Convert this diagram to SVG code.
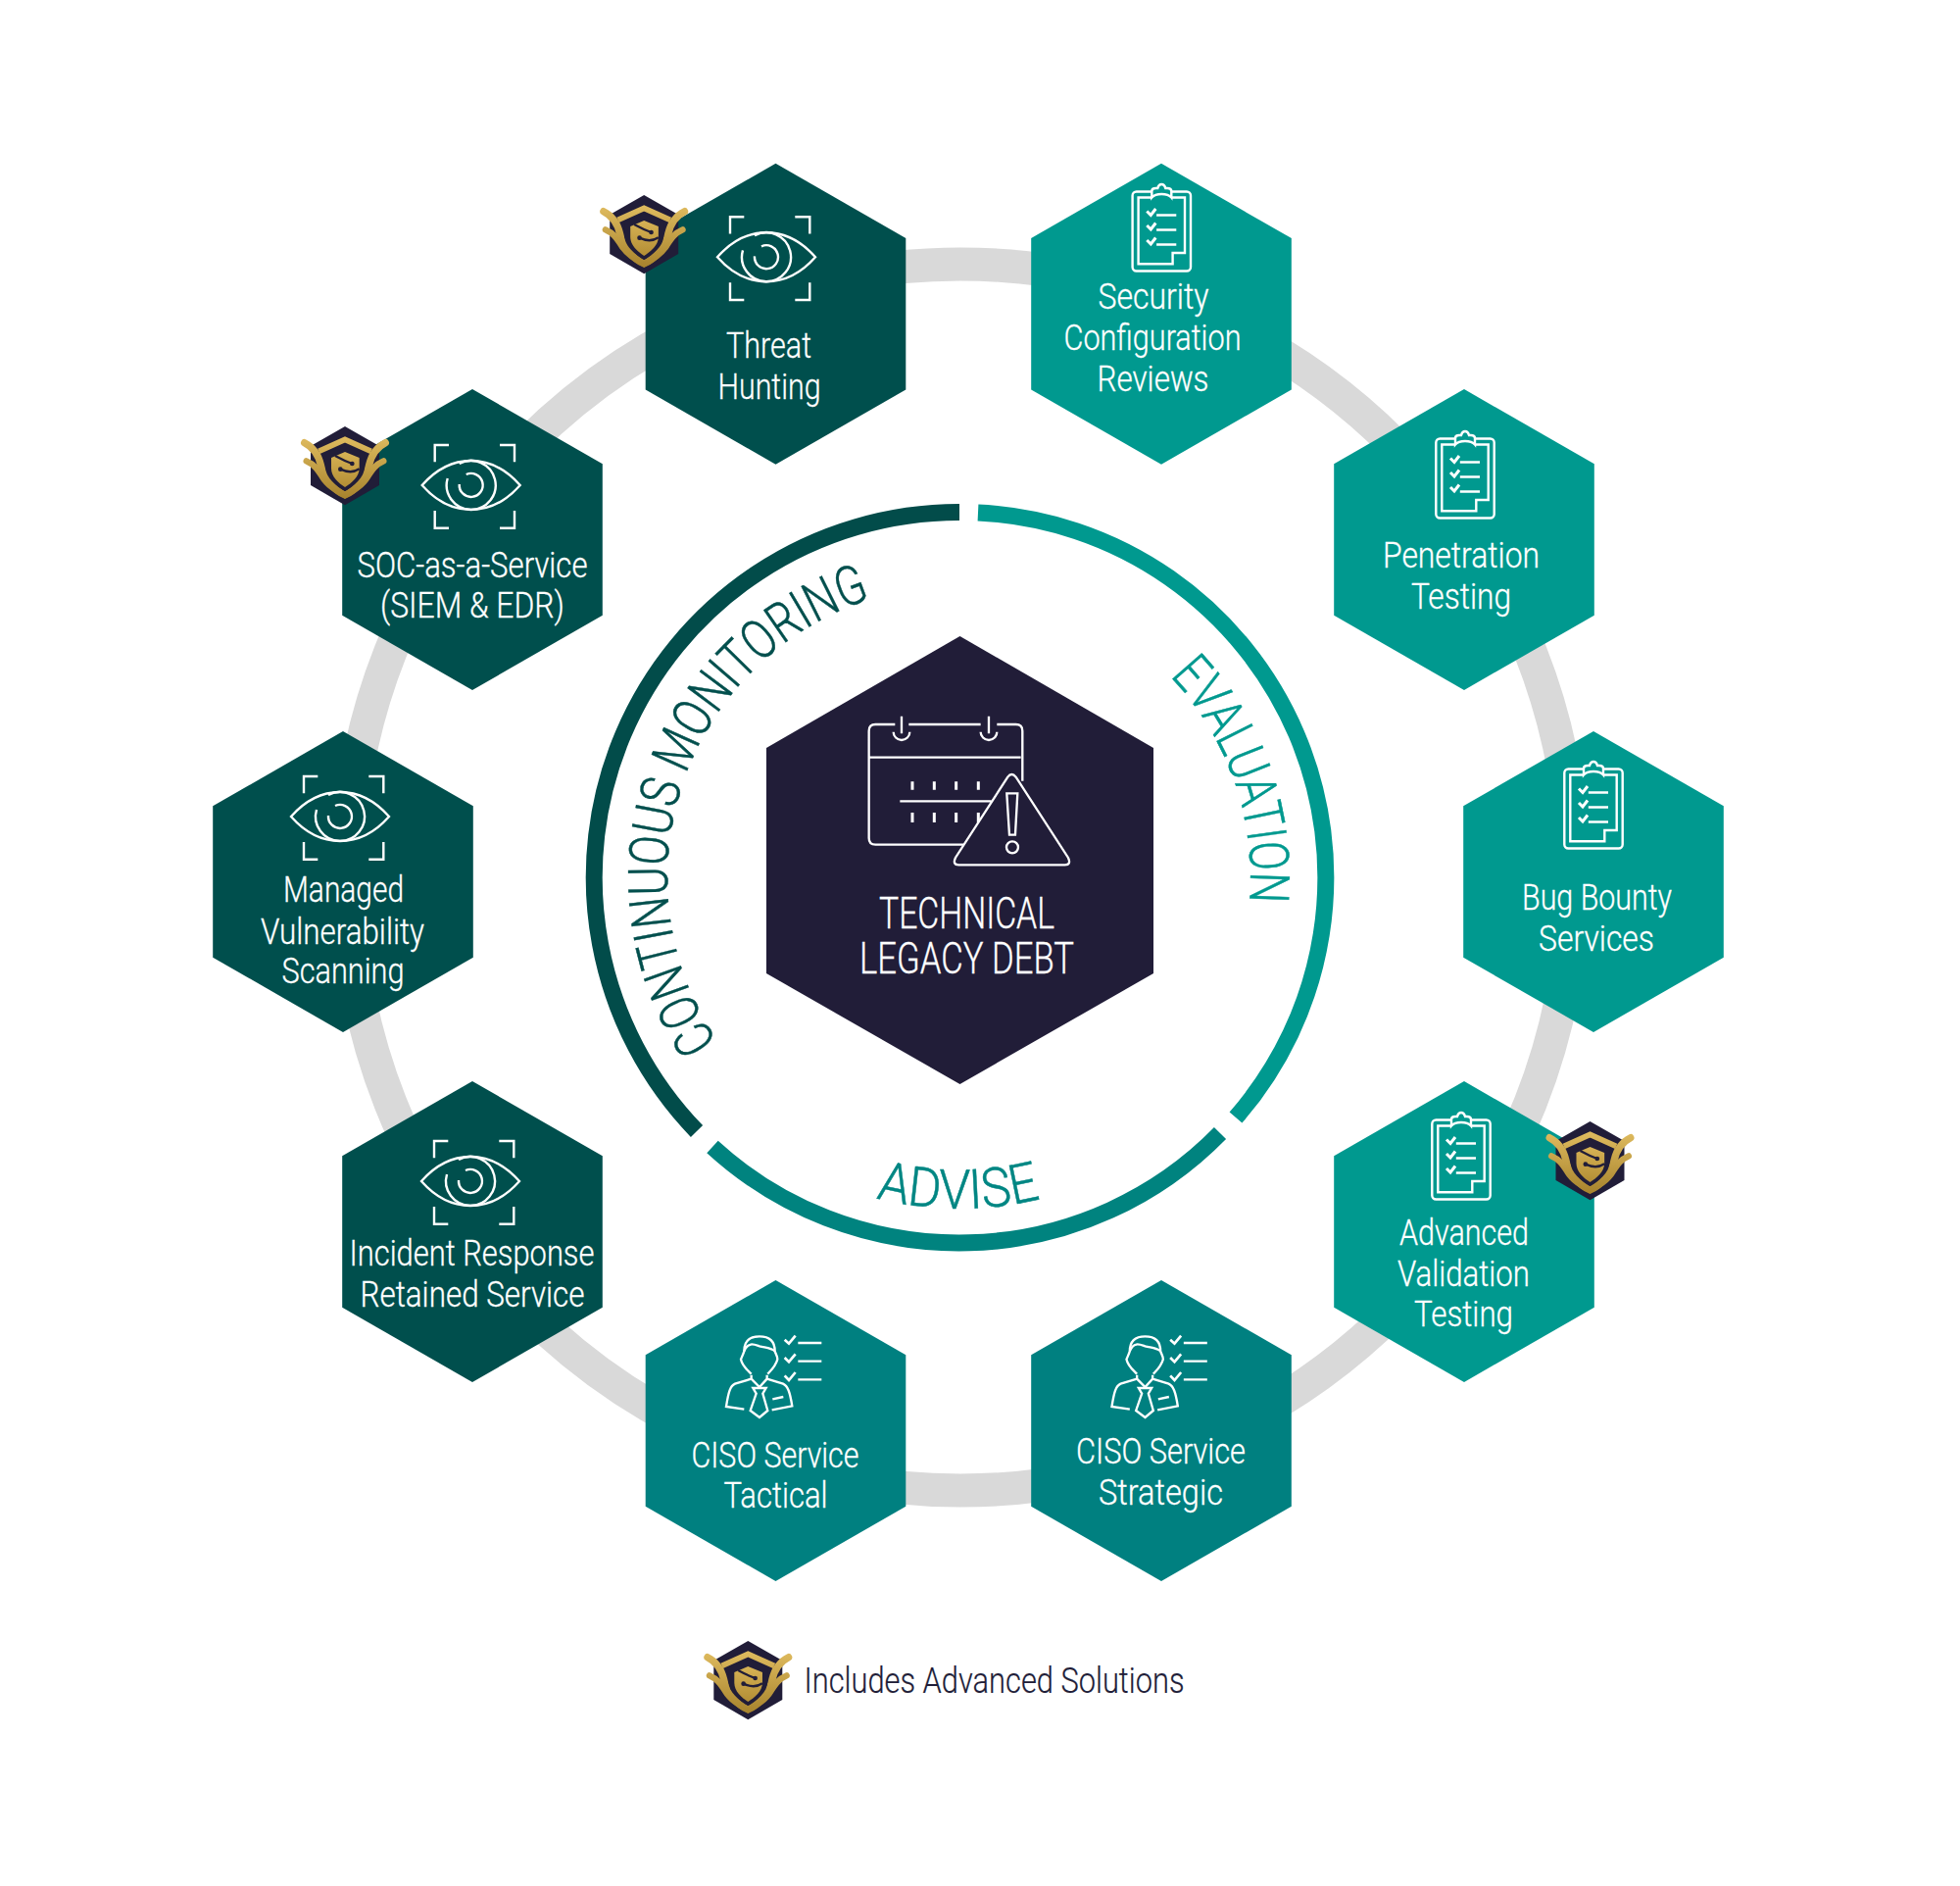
<svg xmlns="http://www.w3.org/2000/svg" width="2000" height="1924" viewBox="0 0 2000 1924">
<style>
text{font-family:"Roboto","Liberation Sans",sans-serif;font-weight:300}
.t{font-size:36px;fill:#fff;stroke:#fff;stroke-width:.3}
.c{font-size:44px;fill:#fff;stroke:#fff;stroke-width:.3}
.i{fill:none;stroke:#fff;stroke-width:2.400}
.z{fill:none;stroke:#fff;stroke-width:7}
.hd{fill:#004f4d}.ht{fill:#00998f}.hc{fill:#008080}
.arc{fill:none;stroke-width:17}
.arctext{font-size:56px;stroke-width:.5}
</style>
<defs>
<polygon id="hex" points="0,-153.500 132.800,-77.200 132.800,77.200 0,153.500 -132.800,77.200 -132.800,-77.200"/>
<linearGradient id="gold" x1="0" y1="0" x2="0" y2="1"><stop offset="0" stop-color="#d7b255"/><stop offset="1" stop-color="#b38e35"/></linearGradient>
<linearGradient id="goldU" gradientUnits="userSpaceOnUse" x1="0" y1="60" x2="0" y2="260"><stop offset="0" stop-color="#e3bf62"/><stop offset="1" stop-color="#a8842e"/></linearGradient>
<g id="eye" class="i">
<path d="M-50 0C-35-17-17-25 0-25S35-17 50 0C35 17 17 25 0 25S-35 17-50 0Z"/>
<path d="M-12-22A25 25 0 1 1-24-7"/>
<path d="M-5-11A12 12 0 1 1-12-1"/>
<path d="M-37-23.700V-41H-22.700M29.300-41H44.300V-23.700M-37 26V43.700H-22.700M29.300 43.700H44.300V26"/>
</g>
<g id="clip" class="i">
<path d="M-10-40.500H-25.700a4 4 0 0 0-4 4V36.500a4 4 0 0 0 4 4H25.700a4 4 0 0 0 4-4V-36.500a4 4 0 0 0-4-4H10"/>
<path d="M-10-34.500V-41Q-10-44-6-44H-4Q-3-48 0-48T4-44H6Q10-44 10-41V-34.500Q7-38 0-38T-10-34.500Z"/>
<path d="M-10-34.500H-23.700V33.300H11.300V22H23.700V-34.500H10"/>
<path d="M-5.200-16.500H15M-5.200-1.500H15M-5.200 13.500H15"/>
<path d="M-15-20.500L-11-16.500L-6-23M-15-6L-11-2L-6-8.500M-15 9L-11 13L-6 6.500" stroke-width="3"/>
</g>
<g id="ciso" class="z">
<path d="M200 185C185 170 172 160 168 140C172 130 175 125 178 115C178 85 195 70 225 70C255 70 272 85 272 115C275 125 280 130 280 140C275 160 262 172 250 185"/>
<path d="M178 115C190 85 210 95 225 100C245 105 260 105 272 115"/>
<path d="M200 188V200L150 215C135 222 130 240 123 285L178 293M248 188V200L297 215C312 222 318 240 325 283L263 295M200 200L225 225L248 200"/>
<path d="M205 228H245L235 245L250 297L225 318L197 297L215 245Z"/>
<path d="M265 262L298 255M343 90H415M343 146H415M343 202H415"/>
<path d="M302 80L315 92L335 68M302 135L315 148L335 124M302 190L315 204L335 180" stroke-width="8"/>
</g>
<g id="badge" transform="scale(.3333)">
<g transform="translate(-190 -162)">
<polygon points="190,42 295,102 295,222 190,283 85,222 85,102" fill="#211d38"/>
<path d="M66 92C92 105 108 125 116 160C123 202 160 239 190 252C220 239 257 202 264 160C272 125 288 105 314 92" fill="none" stroke="url(#goldU)" stroke-width="22" stroke-linecap="round"/>
<path d="M72 148C95 158 105 172 120 195C135 220 165 242 190 252C215 242 245 220 260 195C275 172 285 158 308 148" fill="none" stroke="url(#goldU)" stroke-width="19" stroke-linecap="round"/>
<path d="M110 118L190 82L270 118" fill="none" stroke="url(#goldU)" stroke-width="17"/>
<path d="M130 124L190 100L250 124V165C250 200 215 225 190 240C165 225 130 200 130 165Z" fill="#211d38"/>
<path d="M148 138L190 120L234 138V170C234 195 210 215 190 228C170 215 148 195 148 170Z" fill="url(#gold)"/>
<path d="M160 132C180 143 195 150 212 156M176 173C195 182 215 185 234 172" fill="none" stroke="#211d38" stroke-width="7"/>
<circle cx="212" cy="156" r="7" fill="#211d38"/><circle cx="176" cy="173" r="7" fill="#211d38"/>
</g>
</g>
<path id="pCM" d="M732.500 1062.500A298 298 0 0 1 979 597"/>
<path id="pEV" d="M1193.700 689.800A297 297 0 0 1 1236.200 1043.500"/>
<path id="pAD" d="M893.800 1222.100A338 338 0 0 0 1196.300 1153.900"/>
</defs>
<rect width="2000" height="1924" fill="#fff"/>
<g id="connectors">
<circle cx="980" cy="895" r="625.500" fill="none" stroke="#d9d9d9" stroke-width="34"/>
</g>
<g id="phase-rings">
<path class="arc" stroke="#024c4a" d="M979 522.500A372.500 372.500 0 0 0 711 1154"/>
<path class="arc" stroke="#00998f" d="M998 523A372.500 372.500 0 0 1 1261 1140"/>
<path class="arc" stroke="#00837f" d="M727 1170A372.500 372.500 0 0 0 1245 1156"/>
<text class="arctext" fill="#024f4d" stroke="#024f4d"><textPath href="#pCM" textLength="554" lengthAdjust="spacingAndGlyphs">CONTINUOUS MONITORING</textPath></text>
<text class="arctext" fill="#00998f" stroke="#00998f"><textPath href="#pEV" textLength="252" lengthAdjust="spacingAndGlyphs">EVALUATION</textPath></text>
<text class="arctext" fill="#008683" stroke="#008683"><textPath href="#pAD" textLength="170" lengthAdjust="spacingAndGlyphs">ADVISE</textPath></text>
</g>
<g id="center">
<polygon fill="#211d38" points="979.500,649 1177,763 1177,993 979.500,1106 782,993 782,763"/>
<g class="z" transform="translate(770 640) scale(.3333)">
<path d="M430 297H370Q350 297 350 317V645Q350 665 370 665H640M472 297H692M742 297H800Q820 297 820 317V470M352 398H815M450 272V325M425 320A25 25 0 0 0 475 320M717 272V325M692 320A25 25 0 0 0 742 320M445 532H725"/>
<path d="M483 472V497M550 472V497M617 472V497M685 472V497M483 567V597M550 567V597M617 567V597M685 567V597" stroke-width="9"/>
<path d="M775 458Q787 442 800 458L960 705Q970 727 950 727H625Q605 727 615 705Z"/>
<path d="M772 508H805L798 635H780Z"/><circle cx="789" cy="673" r="18"/>
</g>
<text class="c" x="897" y="947" textLength="179" lengthAdjust="spacingAndGlyphs">TECHNICAL</text>
<text class="c" x="877" y="993" textLength="219" lengthAdjust="spacingAndGlyphs">LEGACY DEBT</text>
</g>
<g id="threat-hunting">
<use href="#hex" x="791.500" y="320.300" class="hd"/><use href="#eye" x="782" y="262.300"/>
<text class="t" x="741" y="365" textLength="87" lengthAdjust="spacingAndGlyphs">Threat</text>
<text class="t" x="732.500" y="407" textLength="105" lengthAdjust="spacingAndGlyphs">Hunting</text>
</g>
<g id="security-configuration-reviews">
<use href="#hex" x="1185" y="320.300" class="ht"/><use href="#clip" x="1185.300" y="236"/>
<text class="t" x="1120.500" y="315" textLength="113" lengthAdjust="spacingAndGlyphs">Security</text>
<text class="t" x="1085.500" y="357" textLength="181" lengthAdjust="spacingAndGlyphs">Configuration</text>
<text class="t" x="1119.500" y="399" textLength="114" lengthAdjust="spacingAndGlyphs">Reviews</text>
</g>
<g id="penetration-testing">
<use href="#hex" x="1494" y="550.500" class="ht"/><use href="#clip" x="1495" y="488"/>
<text class="t" x="1411" y="579" textLength="160" lengthAdjust="spacingAndGlyphs">Penetration</text>
<text class="t" x="1440" y="621" textLength="102" lengthAdjust="spacingAndGlyphs">Testing</text>
</g>
<g id="bug-bounty-services">
<use href="#hex" x="1626" y="899.500" class="ht"/><use href="#clip" x="1626" y="825"/>
<text class="t" x="1553" y="928" textLength="153" lengthAdjust="spacingAndGlyphs">Bug Bounty</text>
<text class="t" x="1570" y="970" textLength="118" lengthAdjust="spacingAndGlyphs">Services</text>
</g>
<g id="advanced-validation-testing">
<use href="#hex" x="1494" y="1256.500" class="ht"/><use href="#clip" x="1491" y="1183"/>
<text class="t" x="1428" y="1270" textLength="132" lengthAdjust="spacingAndGlyphs">Advanced</text>
<text class="t" x="1426" y="1312" textLength="135" lengthAdjust="spacingAndGlyphs">Validation</text>
<text class="t" x="1443" y="1353" textLength="101" lengthAdjust="spacingAndGlyphs">Testing</text>
</g>
<g id="ciso-strategic">
<use href="#hex" x="1185" y="1459.500" class="hc"/><use href="#ciso" transform="translate(1093.500 1340) scale(.3333)"/>
<text class="t" x="1098" y="1493" textLength="173" lengthAdjust="spacingAndGlyphs">CISO Service</text>
<text class="t" x="1121" y="1535" textLength="127" lengthAdjust="spacingAndGlyphs">Strategic</text>
</g>
<g id="ciso-tactical">
<use href="#hex" x="791.500" y="1459.500" class="hc"/><use href="#ciso" transform="translate(700 1340) scale(.3333)"/>
<text class="t" x="705.500" y="1497" textLength="171" lengthAdjust="spacingAndGlyphs">CISO Service</text>
<text class="t" x="738.500" y="1538" textLength="106" lengthAdjust="spacingAndGlyphs">Tactical</text>
</g>
<g id="incident-response">
<use href="#hex" x="482" y="1256.500" class="hd"/><use href="#eye" x="480" y="1205"/>
<text class="t" x="356.500" y="1291" textLength="250" lengthAdjust="spacingAndGlyphs">Incident Response</text>
<text class="t" x="367.500" y="1333" textLength="229" lengthAdjust="spacingAndGlyphs">Retained Service</text>
</g>
<g id="managed-vulnerability-scanning">
<use href="#hex" x="350" y="899.500" class="hd"/><use href="#eye" x="347" y="833"/>
<text class="t" x="289" y="920" textLength="123" lengthAdjust="spacingAndGlyphs">Managed</text>
<text class="t" x="266" y="963" textLength="167" lengthAdjust="spacingAndGlyphs">Vulnerability</text>
<text class="t" x="287.500" y="1003" textLength="125" lengthAdjust="spacingAndGlyphs">Scanning</text>
</g>
<g id="soc-as-a-service">
<use href="#hex" x="482" y="550.500" class="hd"/><use href="#eye" x="480.700" y="495"/>
<text class="t" x="364.500" y="589" textLength="235" lengthAdjust="spacingAndGlyphs">SOC-as-a-Service</text>
<text class="t" x="388" y="630" textLength="188" lengthAdjust="spacingAndGlyphs">(SIEM &amp; EDR)</text>
</g>
<g id="badges">
<use href="#badge" x="657.200" y="239"/>
<use href="#badge" x="352" y="475"/>
<use href="#badge" x="1622.500" y="1184"/>
</g>
<g id="legend">
<use href="#badge" x="763.300" y="1714"/>
<text x="820.500" y="1727" font-size="36" fill="#211d38" stroke="#211d38" stroke-width=".2" textLength="388" lengthAdjust="spacingAndGlyphs">Includes Advanced Solutions</text>
</g>
</svg>
